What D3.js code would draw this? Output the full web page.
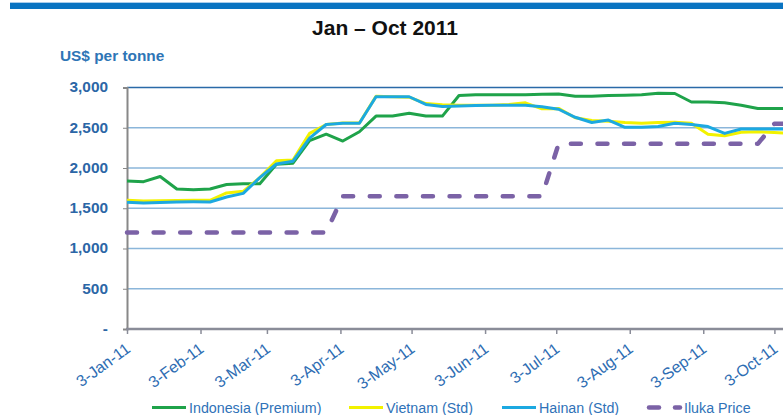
<!DOCTYPE html>
<html>
<head>
  <meta charset="utf-8">
  <title>Jan – Oct 2011</title>
  <style>
    body { margin: 0; background: #fff; }
    svg { display: block; font-family: "Liberation Sans", Arial, sans-serif; }
  </style>
</head>
<body>
  <svg id="chart" width="783" height="415"></svg>
  <script src="https://d3js.org/d3.v7.min.js"></script>
  <script>
    // weekly dates (Mondays)
    const weeks = [
      "2011-01-03","2011-01-10","2011-01-17","2011-01-24","2011-01-31",
      "2011-02-07","2011-02-14","2011-02-21","2011-02-28","2011-03-07",
      "2011-03-14","2011-03-21","2011-03-28","2011-04-04","2011-04-11",
      "2011-04-18","2011-04-25","2011-05-02","2011-05-09","2011-05-16",
      "2011-05-23","2011-05-30","2011-06-06","2011-06-13","2011-06-20",
      "2011-06-27","2011-07-04","2011-07-11","2011-07-18","2011-07-25",
      "2011-08-01","2011-08-08","2011-08-15","2011-08-22","2011-08-29",
      "2011-09-05","2011-09-12","2011-09-19","2011-09-26","2011-10-03",
      "2011-10-10"
    ];
    const indonesia = [1840,1830,1895,1740,1730,1740,1795,1805,1805,2045,
                       2060,2340,2420,2335,2450,2645,2645,2680,2645,2645,
                       2900,2910,2910,2910,2910,2915,2920,2890,2890,2900,
                       2905,2910,2930,2925,2820,2820,2810,2780,2740,2740,2740];
    const vietnam   = [1600,1590,1592,1595,1598,1598,1690,1710,1880,2090,
                       2100,2430,2540,2560,2560,2890,2885,2880,2800,2785,
                       2780,2778,2780,2790,2810,2735,2740,2625,2590,2580,
                       2565,2555,2565,2567,2555,2420,2400,2445,2450,2440,2430];
    const hainan    = [1575,1565,1570,1578,1580,1578,1640,1685,1880,2050,
                       2085,2370,2540,2555,2555,2885,2885,2885,2790,2765,
                       2770,2775,2780,2780,2780,2760,2730,2630,2565,2595,
                       2505,2505,2515,2555,2540,2515,2430,2485,2485,2485,2485];
    const iluka     = [1200,1200,1200,1200,1200,1200,1200,1200,1200,1200,
                       1200,1200,1200,1650,1650,1650,1650,1650,1650,1650,
                       1650,1650,1650,1650,1650,1650,2300,2300,2300,2300,
                       2300,2300,2300,2300,2300,2300,2300,2300,2300,2550,2550];
    const monthTicks = ["2011-01-03","2011-02-03","2011-03-03","2011-04-03","2011-05-03",
                        "2011-06-03","2011-07-03","2011-08-03","2011-09-03","2011-10-03"];
    const yTicks = [0, 500, 1000, 1500, 2000, 2500, 3000];

    const parse = d3.timeParse("%Y-%m-%d");
    const fmtX = d3.timeFormat("%-d-%b-%y");

    const series = [
      { name: "Indonesia (Premium)", values: indonesia, color: "#1fa34a", width: 3 },
      { name: "Vietnam (Std)",       values: vietnam,   color: "#f2f200", width: 3 },
      { name: "Hainan (Std)",        values: hainan,    color: "#1ca9e1", width: 3 },
      { name: "Iluka Price",         values: iluka,     color: "#7b62a6", width: 4.5, dash: "10 16.6" }
    ];

    const svg = d3.select("#chart");
    const W = 783;

    // top banner
    svg.append("rect").attr("x", 10).attr("y", 3).attr("width", W - 10).attr("height", 6)
      .attr("fill", "#0a74c2");
    svg.append("line").attr("x1", 10).attr("x2", W).attr("y1", 2.5).attr("y2", 2.5)
      .attr("stroke", "#a9cdec").attr("stroke-width", 1);

    svg.append("text").attr("x", 385).attr("y", 35).attr("text-anchor", "middle")
      .attr("font-size", 21).attr("font-weight", "bold").attr("fill", "#111")
      .text("Jan – Oct 2011");

    svg.append("text").attr("x", 60).attr("y", 61)
      .attr("font-size", 14).attr("font-weight", "bold").attr("fill", "#2e75b6")
      .attr("transform", "translate(60,0) scale(1.1,1) translate(-60,0)")
      .text("US$ per tonne");

    const x = d3.scaleTime()
      .domain([parse("2011-01-03"), parse("2011-10-03")])
      .range([127, 774.4]);
    const y = d3.scaleLinear().domain([0, 3000]).range([329, 87.5]);

    // gridlines
    svg.append("g").selectAll("line").data(yTicks.filter(v => v > 0)).join("line")
      .attr("x1", 127).attr("x2", W)
      .attr("y1", d => y(d)).attr("y2", d => y(d))
      .attr("stroke", d => d === 3000 ? "#2a6aa8" : "#8bb6da")
      .attr("stroke-width", d => d === 3000 ? 1.5 : 1.3);

    // y axis
    const yAxis = svg.append("g").attr("transform", "translate(127,0)")
      .call(d3.axisLeft(y).tickValues(yTicks).tickSize(4).tickPadding(15)
        .tickFormat(d => d === 0 ? "-" : d3.format(",")(d)));
    yAxis.select(".domain").attr("stroke", "#888").attr("stroke-width", 2);
    yAxis.selectAll(".tick line").attr("stroke", "#888");
    yAxis.selectAll(".tick text")
      .attr("font-size", 14).attr("font-weight", "bold").attr("fill", "#2b66a6")
      .attr("font-family", "Liberation Sans, Arial, sans-serif")
      .attr("transform", "translate(-19,0) scale(1.1,1) translate(19,0)");

    // x axis
    const xAxis = svg.append("g").attr("transform", "translate(0,329)")
      .call(d3.axisBottom(x).tickValues(monthTicks.map(parse)).tickSize(5).tickSizeOuter(0)
        .tickFormat(fmtX));
    xAxis.select(".domain").attr("stroke", "#8a8c98").attr("stroke-width", 2.5)
      .attr("d", `M126,0H${W}`);
    xAxis.selectAll(".tick line").attr("stroke", "#8a8c98").attr("stroke-width", 1.5);
    xAxis.selectAll(".tick text")
      .attr("font-size", 16).attr("fill", "#2e6db3")
      .attr("font-family", "Liberation Sans, Arial, sans-serif")
      .attr("text-anchor", "end").attr("dy", 0).attr("y", 0)
      .attr("transform", "translate(4,22) rotate(-36)");

    // lines
    const dates = weeks.map(parse);
    const line = d3.line().x((d, i) => x(dates[i])).y(d => y(d));
    series.forEach(s => {
      svg.append("path").datum(s.values)
        .attr("fill", "none").attr("stroke", s.color).attr("stroke-width", s.width)
        .attr("stroke-linejoin", "round")
        .attr("stroke-linecap", s.dash ? "round" : "butt")
        .attr("stroke-dasharray", s.dash || null)
        .attr("d", line);
    });

    // legend
    const legendX = [152, 349, 502, 647];
    const lg = svg.append("g").attr("transform", "translate(0,407.5)");
    series.forEach((s, i) => {
      const g = lg.append("g").attr("transform", `translate(${legendX[i]},0)`);
      if (s.dash) {
        g.append("line").attr("x1", 2).attr("x2", 12).attr("stroke", s.color)
          .attr("stroke-width", 4.5).attr("stroke-linecap", "round");
        g.append("line").attr("x1", 28).attr("x2", 33).attr("stroke", s.color)
          .attr("stroke-width", 4.5).attr("stroke-linecap", "round");
      } else {
        g.append("line").attr("x1", 0).attr("x2", 34).attr("stroke", s.color)
          .attr("stroke-width", 3);
      }
      g.append("text").attr("x", 37).attr("y", 5)
        .attr("font-size", 14).attr("fill", "#2f72b8")
        .attr("transform", "translate(37,0) scale(1.02,1) translate(-37,0)")
        .text(s.name);
    });
  </script>
</body>
</html>
